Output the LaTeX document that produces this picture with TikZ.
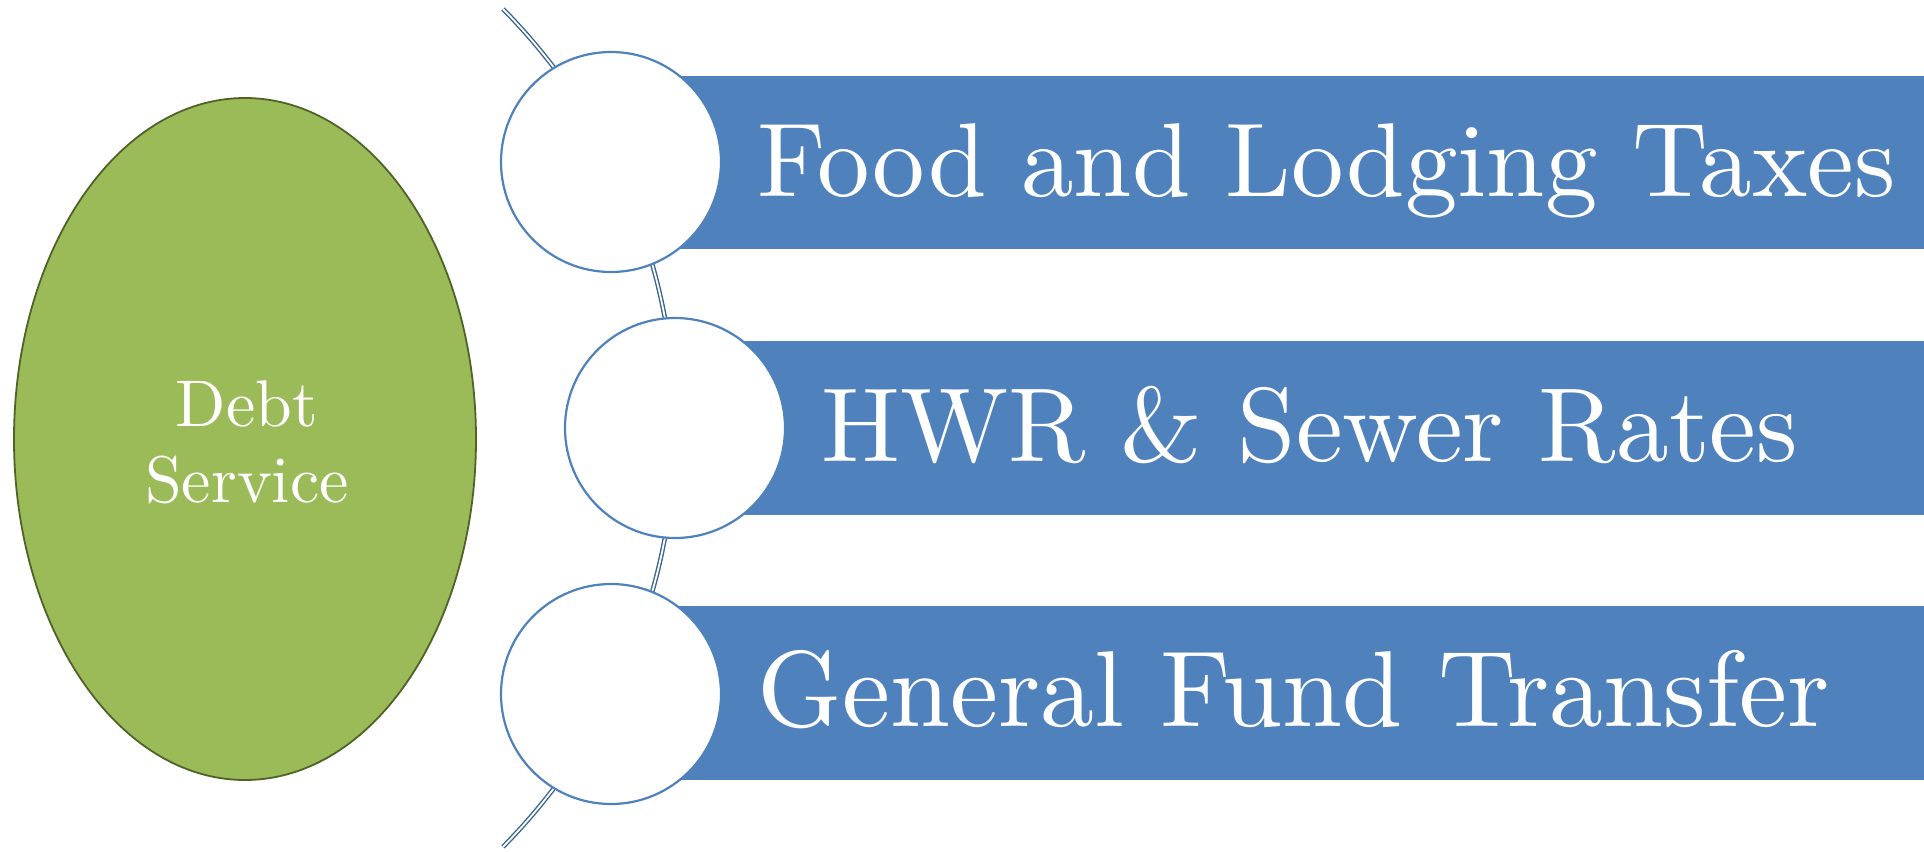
\documentclass[tikz,border=0pt]{standalone}
\usepackage{fontspec}
\newfontfamily\lmten{lmroman10-regular}[Extension=.otf]
\usetikzlibrary{shapes.geometric}
\definecolor{barblue}{HTML}{4F81BD}
\definecolor{arcblue}{HTML}{3A6494}
\definecolor{ellgreen}{HTML}{9BBB59}
\definecolor{ellborder}{HTML}{4F6228}
\begin{document}
\begin{tikzpicture}[x=0.5pt,y=-0.5pt,
  bar/.style={fill=barblue},
  bubble/.style={circle,draw=barblue,line width=1.1pt,fill=white,minimum size=110pt,inner sep=0pt},
  label/.style={anchor=base west,text=white,inner sep=0pt,font=\lmten\fontsize{53}{60}\selectfont},
  arcline/.style={draw=arcblue,double=white,line width=0.7pt,double distance=0.9pt}]
\useasboundingbox (0,0) rectangle (1924,852);
% arc
\coordinate (arcTop) at (503,9);
\draw[arcline] (arcTop) arc[start angle=44.66,end angle=-44.66,radius=298pt] coordinate (arcBot);
% bars
\fill[bar] (611,76) rectangle (1924,249);
\fill[bar] (675,341) rectangle (1924,515);
\fill[bar] (611,606) rectangle (1924,780);
% ellipse
\node[ellipse,draw=ellborder,line width=0.9pt,fill=ellgreen,minimum width=231pt,minimum height=341pt,inner sep=0pt] (debt) at (245,439) {};
\node[align=center,text=white,inner sep=0pt,font=\lmten\fontsize{33}{38}\selectfont] (debttext) at (247,442) {Debt\\Service};
% circles
\node[bubble] (c1) at (611,162) {};
\node[bubble] (c2) at (675,428) {};
\node[bubble] (c3) at (611,694) {};
% labels
\node[label,font=\lmten\fontsize{52.5}{60}\selectfont] (t1) at (757,196) {Food and Lodging Taxes};
\node[label,font=\lmten\fontsize{52.6}{60}\selectfont] (t2) at (821,461) {HWR \& Sewer Rates};
\node[label,font=\lmten\fontsize{54}{60}\selectfont] (t3) at (757,726) {General Fund Transfer};
\end{tikzpicture}
\end{document}
